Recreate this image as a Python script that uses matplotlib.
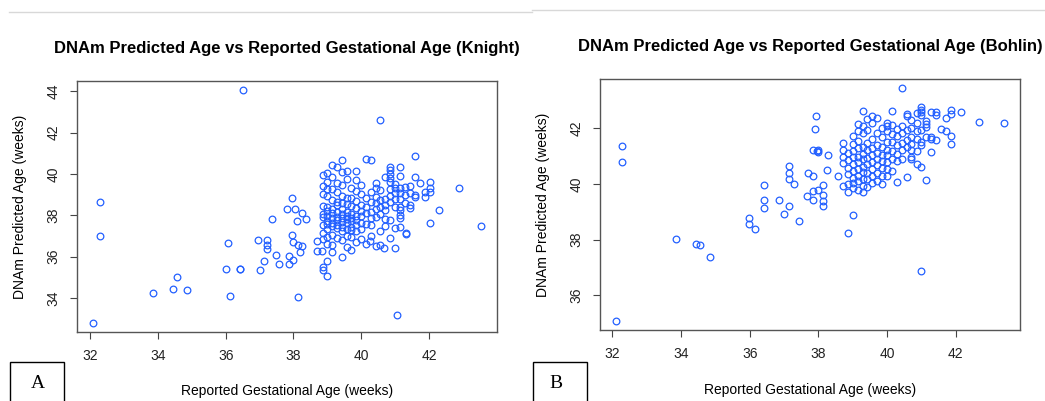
import numpy as np
import matplotlib.pyplot as plt
from matplotlib.patches import Rectangle
from matplotlib.lines import Line2D

# --- Knight data: reported gestational age vs DNAm predicted age (weeks) ---
knight_ga = [
    32.07, 32.29, 32.29, 33.86, 34.43, 34.57, 34.86, 36.0, 36.07, 36.14, 36.43, 36.43, 36.5, 36.94,
    37.0, 37.14, 37.23, 37.23, 37.23, 37.36, 37.48, 37.57, 37.86, 37.86, 38.0, 38.14, 38.2,
    38.7, 38.86, 38.86, 39.0, 39.0, 39.14, 39.43, 39.71, 41.07, 37.97, 37.81, 38.04, 38.25, 38.37,
    38.1, 37.97, 37.99, 38.12, 38.25, 38.69, 38.83,
    40.57, 41.59, 42.88, 43.55, 42.31, 42.02, 41.31, 41.31, 40.99, 40.67, 40.56, 40.86, 40.27, 40.0, 40.28,
    38.86, 38.86, 38.86, 38.86, 38.86, 38.86, 38.86, 38.86, 38.86,
    39.0, 39.0, 39.0, 39.0, 39.0, 39.0, 39.0, 39.0, 39.0, 39.0, 39.0, 39.0,
    39.14, 39.14, 39.14, 39.14, 39.14, 39.14, 39.14, 39.14, 39.14, 39.14, 39.14,
    39.29, 39.29, 39.29, 39.29, 39.29, 39.29, 39.29, 39.29, 39.29, 39.29, 39.29,
    39.43, 39.43, 39.43, 39.43, 39.43, 39.43, 39.43, 39.43, 39.43, 39.43, 39.43, 39.43,
    39.57, 39.57, 39.57, 39.57, 39.57, 39.57, 39.57, 39.57, 39.57, 39.57, 39.57,
    39.71, 39.71, 39.71, 39.71, 39.71, 39.71, 39.71, 39.71, 39.71,
    39.86, 39.86, 39.86, 39.86, 39.86, 39.86, 39.86, 39.86, 39.86, 39.86,
    40.0, 40.0, 40.0, 40.0, 40.0, 40.0, 40.0,
    40.14, 40.14, 40.14, 40.14, 40.14, 40.14,
    40.29, 40.29, 40.29, 40.29, 40.29, 40.29,
    40.43, 40.43, 40.43, 40.43, 40.43, 40.43, 40.43,
    40.57, 40.57, 40.57, 40.57, 40.57,
    40.71, 40.71, 40.71, 40.71, 40.71, 40.71,
    40.86, 40.86, 40.86, 40.86, 40.86, 40.86, 40.86, 40.86, 40.86,
    41.0, 41.0, 41.0, 41.0, 41.0, 41.0,
    41.14, 41.14, 41.14, 41.14, 41.14, 41.14, 41.14, 41.14, 41.14, 41.14,
    41.29, 41.29, 41.29,
    41.45, 41.45, 41.45, 41.45,
    41.6, 41.6, 41.6,
    41.74,
    41.87, 41.87,
    42.02, 42.02, 42.02,
]
knight_dnam = [
    32.8, 38.66, 36.99, 34.22, 34.42, 35.03, 34.4, 35.41, 36.65, 34.08, 35.41, 35.38, 44.05, 36.8,
    35.36, 35.78, 36.8, 36.55, 36.35, 37.82, 36.1, 35.65, 36.03, 35.65, 35.85, 34.05, 36.2,
    36.25, 35.5, 35.35, 35.8, 35.08, 36.2, 36.0, 36.3, 33.15, 38.84, 38.32, 38.31, 38.1, 37.81,
    37.71, 37.05, 36.73, 36.57, 36.52, 36.76, 36.28,
    42.6, 40.85, 39.33, 37.5, 38.26, 37.62, 37.14, 37.1, 36.44, 36.44, 36.54, 36.88, 36.76, 36.86, 37.0,
    36.85, 37.15, 37.55, 37.9, 38.05, 38.45, 39.05, 39.42, 39.95,
    36.62, 36.95, 37.35, 37.58, 37.72, 37.98, 38.22, 38.38, 38.95, 39.28, 39.62, 40.03,
    36.55, 37.05, 37.48, 37.62, 37.88, 38.12, 38.28, 38.74, 39.25, 39.87, 40.42,
    36.92, 37.38, 37.55, 37.78, 37.92, 38.18, 38.52, 38.62, 39.15, 39.55, 40.35,
    36.78, 37.25, 37.42, 37.68, 37.85, 38.05, 38.32, 38.58, 38.92, 39.45, 40.11, 40.7,
    36.48, 37.02, 37.35, 37.62, 37.8, 37.95, 38.18, 38.55, 38.85, 39.78, 40.14,
    36.95, 37.28, 37.45, 37.72, 37.86, 38.08, 38.45, 38.82, 39.32,
    36.72, 37.22, 37.55, 37.75, 37.98, 38.35, 38.68, 39.18, 39.72, 40.14,
    37.32, 37.65, 37.95, 38.22, 38.48, 39.05, 39.48,
    36.62, 37.58, 38.12, 38.38, 38.85, 40.72,
    37.52, 37.88, 38.15, 38.62, 39.12, 40.66,
    36.52, 37.92, 38.28, 38.58, 38.88, 39.32, 39.58,
    37.22, 38.08, 38.42, 38.72, 39.22,
    37.48, 37.82, 38.25, 38.52, 38.78, 39.84,
    37.78, 38.62, 38.92, 39.28, 39.62, 39.8, 40.0, 40.18, 40.35,
    37.4, 38.4, 38.8, 39.1, 39.3, 39.5,
    37.45, 37.86, 38.02, 38.26, 38.42, 38.8, 39.1, 39.3, 39.9, 40.35,
    38.6, 39.0, 39.35,
    38.34, 38.5, 39.1, 39.4,
    38.9, 38.98, 39.84,
    39.55,
    38.9, 39.14,
    39.14, 39.3, 39.62,
]

# --- Bohlin data ---
bohlin_ga = [
    32.09, 32.29, 32.29, 33.85, 34.42, 34.55, 34.85, 35.98, 35.98, 36.15, 36.42, 36.42, 36.42, 36.86,
    36.99, 37.14, 37.14, 37.14, 37.14, 37.28, 37.43,
    37.93, 37.89, 37.85, 38.0, 38.0, 38.29, 38.24, 37.7, 37.85, 37.66, 37.85, 37.85, 38.0, 38.14,
    38.14, 38.14, 38.14, 38.57, 38.71, 39.0, 38.85, 41.0, 40.43, 42.69, 43.42, 37.96,
    38.71, 38.71, 38.71, 38.71,
    38.86, 38.86, 38.86, 38.86, 38.86, 38.86,
    39.0, 39.0, 39.0, 39.0, 39.0, 39.0, 39.0, 39.0, 39.0,
    39.14, 39.14, 39.14, 39.14, 39.14, 39.14, 39.14, 39.14, 39.14, 39.14,
    39.29, 39.29, 39.29, 39.29, 39.29, 39.29, 39.29, 39.29, 39.29, 39.29, 39.29,
    39.43, 39.43, 39.43, 39.43, 39.43, 39.43, 39.43, 39.43, 39.43,
    39.57, 39.57, 39.57, 39.57, 39.57, 39.57, 39.57, 39.57, 39.57,
    39.71, 39.71, 39.71, 39.71, 39.71, 39.71, 39.71, 39.71,
    39.86, 39.86, 39.86, 39.86, 39.86, 39.86, 39.86, 39.86,
    40.0, 40.0, 40.0, 40.0, 40.0, 40.0, 40.0, 40.0, 40.0,
    40.14, 40.14, 40.14, 40.14, 40.14, 40.14, 40.14,
    40.29, 40.29, 40.29, 40.29, 40.29, 40.29,
    40.43, 40.43, 40.43, 40.43, 40.43,
    40.57, 40.57, 40.57, 40.57, 40.57, 40.57,
    40.71, 40.71, 40.71, 40.71, 40.71, 40.71, 40.71,
    40.86, 40.86, 40.86, 40.86, 40.86, 40.86,
    41.0, 41.0, 41.0, 41.0, 41.0, 41.0, 41.0, 41.0,
    41.14, 41.14, 41.14, 41.14, 41.14,
    41.29, 41.29, 41.29, 41.29,
    41.43, 41.43, 41.43,
    41.57,
    41.71, 41.71,
    41.86, 41.86, 41.86, 41.86,
    42.14,
]
bohlin_dnam = [
    35.09, 41.37, 40.78, 38.03, 37.85, 37.81, 37.37, 38.77, 38.57, 38.39, 39.95, 39.43, 39.12, 39.41,
    38.93, 39.2, 40.16, 40.4, 40.63, 40.0, 38.67,
    42.44, 41.97, 41.22, 41.22, 41.13, 41.02, 40.51, 40.39, 40.27, 39.55, 39.43, 39.73, 39.79, 39.97,
    39.61, 39.37, 39.19, 40.29, 39.94, 38.89, 38.25, 36.89, 43.43, 42.22, 42.18, 41.19,
    40.75, 40.98, 41.22, 41.46,
    39.72, 39.98, 40.35, 40.58, 40.85, 41.12,
    39.85, 40.03, 40.22, 40.48, 40.72, 40.95, 41.18, 41.42, 41.72,
    39.78, 40.12, 40.28, 40.52, 40.78, 40.98, 41.28, 41.55, 41.88, 42.15,
    39.71, 39.92, 40.18, 40.42, 40.62, 40.88, 41.08, 41.32, 41.82, 42.08, 42.63,
    39.88, 40.18, 40.38, 40.72, 40.92, 41.22, 41.48, 41.92, 42.32,
    40.02, 40.28, 40.52, 40.78, 41.02, 41.28, 41.62, 42.18, 42.44,
    40.12, 40.38, 40.68, 40.88, 41.12, 41.38, 41.82, 42.36,
    39.98, 40.29, 40.58, 40.82, 41.02, 41.32, 41.68, 42.02,
    40.29, 40.52, 40.78, 41.02, 41.22, 41.52, 41.91, 42.06, 42.2,
    40.48, 40.88, 41.18, 41.52, 41.78, 42.12, 42.6,
    40.05, 40.82, 41.08, 41.38, 41.72, 41.98,
    40.88, 41.22, 41.48, 41.82, 42.08,
    40.25, 41.32, 41.58, 41.92, 42.45, 42.5,
    40.9, 40.98, 41.22, 41.42, 41.68, 42.02, 42.28,
    40.72, 41.18, 41.62, 41.88, 42.18, 42.54,
    40.6, 41.38, 41.52, 41.94, 42.48, 42.57, 42.65, 42.75,
    40.13, 41.68, 42.04, 42.15, 42.27,
    41.13, 41.62, 41.7, 42.57,
    41.58, 42.47, 42.57,
    41.96,
    41.91, 42.36,
    41.44, 41.72, 42.51, 42.65,
    42.57,
]

titles = ['DNAm Predicted Age vs Reported Gestational Age (Knight)',
          'DNAm Predicted Age vs Reported Gestational Age (Bohlin)']
panel_tags = ['A', 'B']
xlabel = 'Reported Gestational Age (weeks)'
ylabel = 'DNAm Predicted Age (weeks)'
x_ticks = [32, 34, 36, 38, 40, 42]
knight_yticks = [34, 36, 38, 40, 42, 44]
bohlin_yticks = [36, 38, 40, 42]

W, H = 1045, 401
plt.rcParams['font.family'] = ['Liberation Sans', 'DejaVu Sans']
fig = plt.figure(figsize=(W / 100, H / 100), dpi=100)

def r_range(v):
    # R style: pad data range by 4% on both sides
    lo, hi = min(v), max(v)
    pad = 0.04 * (hi - lo)
    return lo - pad, hi + pad

def px_box(left, top, right, bottom):
    return [left / W, 1 - bottom / H, (right - left) / W, (bottom - top) / H]

panels = [
    (knight_ga, knight_dnam, knight_yticks, px_box(77, 81, 497, 332), 20, 48, 391),
    (bohlin_ga, bohlin_dnam, bohlin_yticks, px_box(600, 79, 1020, 330), 543, 46, 390),
]

for i, (gx, gy, yt, box, ylab_x, title_y, xlab_y) in enumerate(panels):
    ax = fig.add_axes(box)
    ax.plot(gx, gy, linestyle='none', marker='o', markersize=4.8,
            markerfacecolor='none', markeredgecolor='#2360ff', markeredgewidth=0.9)
    ax.set_xlim(r_range(gx))
    ax.set_ylim(r_range(gy))
    ax.set_xticks(x_ticks)
    ax.set_yticks(yt)
    ax.tick_params(direction='out', length=5, width=0.8, color='#444444',
                   labelsize=10, labelcolor='#222222', pad=7)
    for lab in ax.get_yticklabels():
        lab.set_rotation(90)
        lab.set_va('center')
    for sp in ax.spines.values():
        sp.set_color('#555555')
        sp.set_linewidth(1.0)

    cx = (box[0] + box[2] / 2)
    fig.text(cx, 1 - title_y / H, titles[i], ha='center', va='center',
             fontsize=12, fontweight='bold')
    fig.text(cx, 1 - xlab_y / H, xlabel, ha='center', va='center', fontsize=10)
    fig.text(ylab_x / W, box[1] + box[3] / 2, ylabel, ha='center', va='center',
             rotation=90, fontsize=10)

# panel tag boxes at the bottom left of each panel
for left, right, tx, ty, tag in [(9.5, 64, 38, 384, panel_tags[0]),
                                 (532.5, 587, 555.5, 383, panel_tags[1])]:
    fig.patches.append(Rectangle((left / W, -0.05), (right - left) / W, 0.05 + 1 - 362 / H,
                                 transform=fig.transFigure, fill=False,
                                 edgecolor='black', linewidth=1.0))
    fig.text(tx / W, 1 - ty / H, tag, ha='center', va='center',
             fontsize=14, family=['Liberation Serif', 'DejaVu Serif'])

# faint separator lines at the top
fig.lines.append(Line2D([9 / W, 532 / W], [1 - 12.3 / H] * 2, transform=fig.transFigure,
                        color='#d8d8d8', linewidth=1.0))
fig.lines.append(Line2D([532 / W, 1.0], [1 - 10.3 / H] * 2, transform=fig.transFigure,
                        color='#d8d8d8', linewidth=1.0))

fig.savefig('out.png', dpi=100)
